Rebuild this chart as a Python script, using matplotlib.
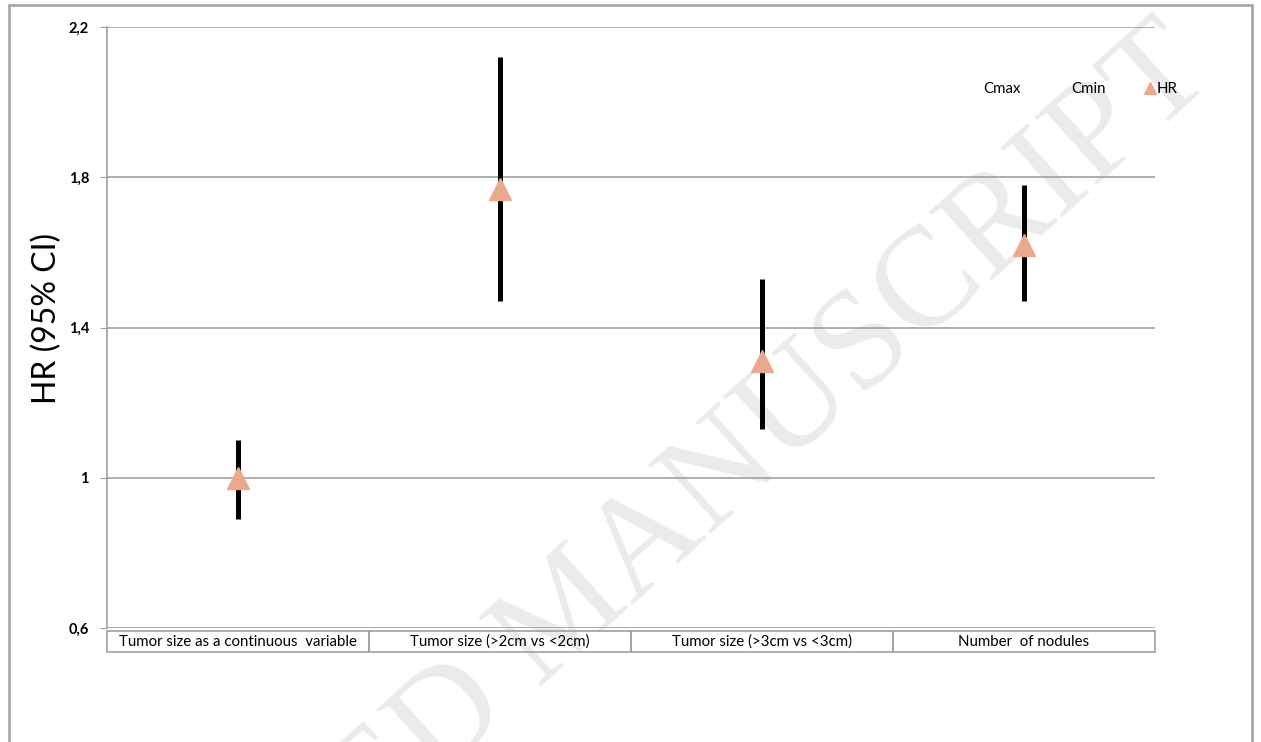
import matplotlib
matplotlib.use("Agg")
import matplotlib.pyplot as plt
from matplotlib.lines import Line2D
from matplotlib.patches import Rectangle

plt.rcParams["font.family"] = ["Lato", "DejaVu Sans"]

categories = ["Tumor size as a continuous  variable", "Tumor size (>2cm vs <2cm)",
              "Tumor size (>3cm vs <3cm)", "Number  of nodules"]
cmax = [1.10, 2.12, 1.53, 1.78]
cmin = [0.89, 1.47, 1.13, 1.47]
hr = [1.00, 1.77, 1.31, 1.62]
yticks = [0.6, 1.0, 1.4, 1.8, 2.2]
ytick_labels = ["0,6", "1", "1,4", "1,8", "2,2"]

GRID = "#a0a0a0"
TRI = "#e9a98a"

fig = plt.figure(figsize=(12.61, 7.42), dpi=100)

# faint watermark behind everything
fig.text(570 / 1261, 1 - 615 / 742, "ACCEPTED MANUSCRIPT", fontsize=102,
         rotation=42, rotation_mode="anchor", color="#ebebeb", ha="center",
         va="center", zorder=0, family="Liberation Serif")

ax = fig.add_axes([107 / 1261, 1 - 628 / 742, 1048 / 1261, 601 / 742])
ax.set_zorder(2)
ax.patch.set_alpha(0)

x = list(range(len(categories)))
for i in x:
    ax.plot([i, i], [cmin[i], cmax[i]], color="black", linewidth=3.6,
            solid_capstyle="butt", zorder=3)
ax.plot(x, hr, linestyle="none", marker="^", markersize=16, color=TRI,
        markeredgecolor=TRI, zorder=4)

ax.set_xlim(-0.5, len(categories) - 0.5)
ax.set_ylim(0.6, 2.2)
ax.set_yticks(yticks)
ax.set_yticklabels(ytick_labels, fontsize=10.5, fontweight="bold")
ax.tick_params(axis="y", length=5, color=GRID, pad=8)
ax.set_xticks([])
ax.yaxis.grid(True, color=GRID, linewidth=1.2)
ax.set_axisbelow(True)
for s in ["top", "right", "bottom"]:
    ax.spines[s].set_visible(False)
ax.spines["left"].set_color(GRID)
ax.spines["left"].set_linewidth(1.2)
ax.set_ylabel("HR (95% CI)", fontsize=23)
ax.yaxis.set_label_coords(-0.043, 0.515)

tbl = ax.table(cellText=[categories], cellLoc="center",
               bbox=[0, -0.04, 1, 0.035])
tbl.auto_set_font_size(False)
for cell in tbl.get_celld().values():
    cell.set_edgecolor(GRID)
    cell.set_linewidth(1.2)
    cell.set_facecolor("none")
    cell.get_text().set_fontsize(10.8)

handles = [Line2D([], [], linestyle="none"),
           Line2D([], [], linestyle="none"),
           Line2D([], [], linestyle="none", marker="^", markersize=8,
                  color=TRI)]
ax.legend(handles, ["Cmax", "Cmin", "HR"], ncol=3, frameon=False,
          fontsize=10.8, loc="center right",
          bbox_to_anchor=(1178 / 1261, 1 - 89 / 742),
          bbox_transform=fig.transFigure, borderaxespad=0, borderpad=0,
          handlelength=0.8, handletextpad=0.1, columnspacing=2.5)

fig.patches.append(Rectangle((9 / 1261, -0.05), 1243 / 1261, 1.05 - 5 / 742,
                             transform=fig.transFigure, fill=False,
                             edgecolor="#a8a8a8", linewidth=2, zorder=-1))

fig.savefig("out.png", dpi=100)
